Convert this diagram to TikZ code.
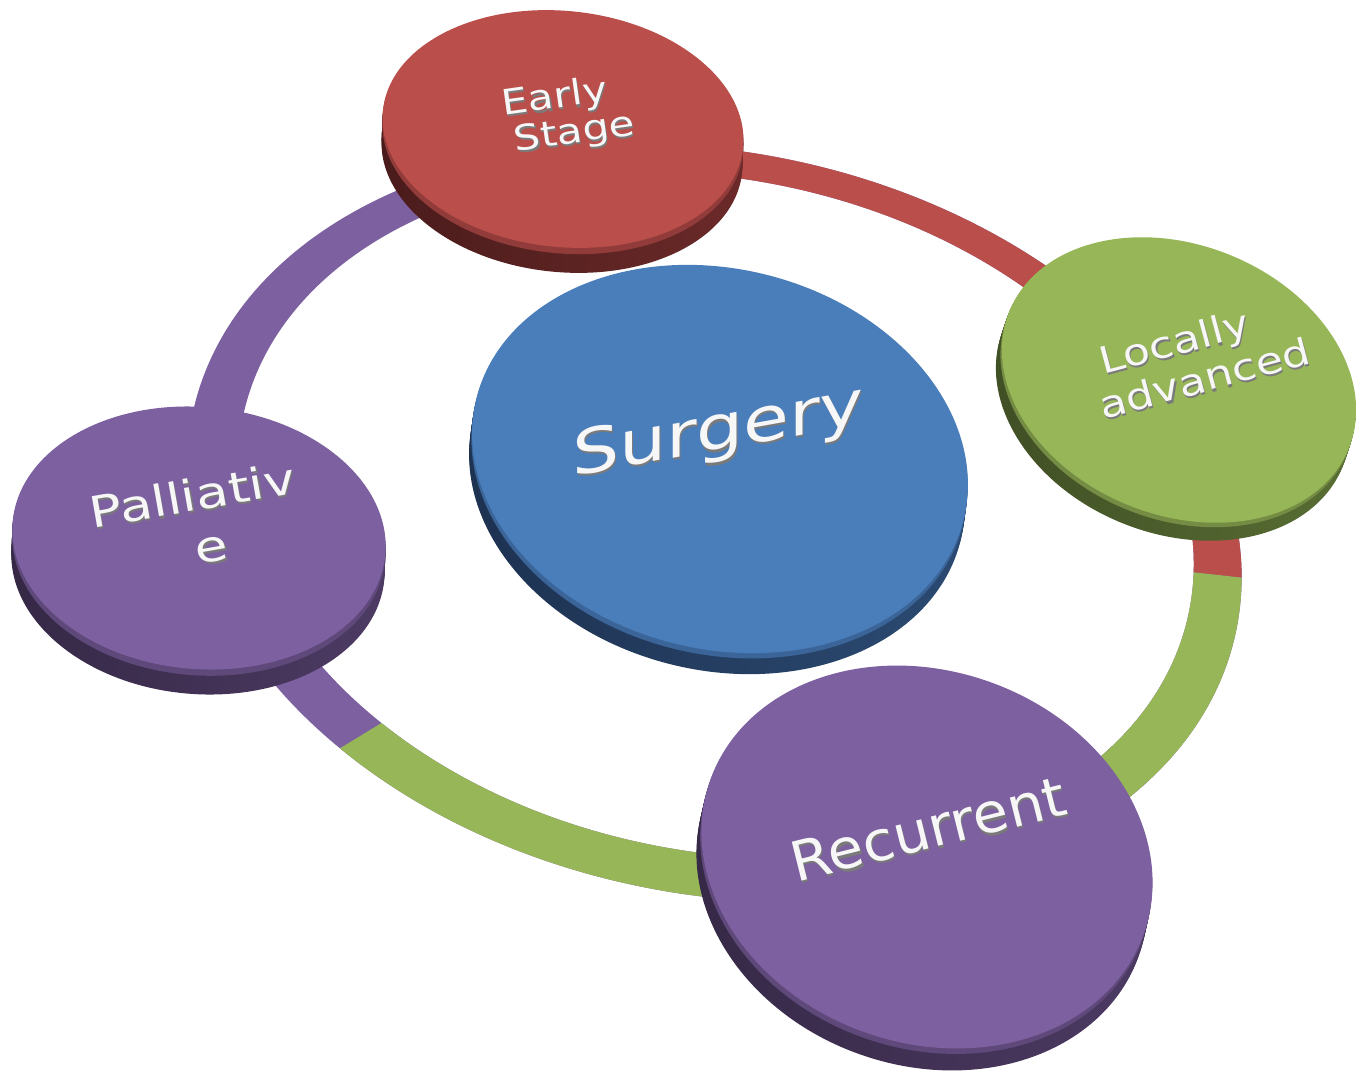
\documentclass[tikz,border=0pt]{standalone}
\usepackage{fontspec}
\newfontfamily\labelfont{DejaVu Sans}
\usetikzlibrary{calc}

% disc palettes: top face, bevel rim, side (dark/left and lighter/right)
\definecolor{sgtop}{HTML}{4A7EBB}
\definecolor{sgbevel}{HTML}{3B6599}
\definecolor{sgsideA}{HTML}{1D3150}
\definecolor{sgsideB}{HTML}{2C4B73}
\definecolor{rdtop}{HTML}{BA4E4B}
\definecolor{rdbevel}{HTML}{913C3A}
\definecolor{rdsideA}{HTML}{4A1B1B}
\definecolor{rdsideB}{HTML}{6B2A29}
\definecolor{gntop}{HTML}{97B657}
\definecolor{gnbevel}{HTML}{748C43}
\definecolor{gnsideA}{HTML}{3F4E24}
\definecolor{gnsideB}{HTML}{5A6F35}
\definecolor{pptop}{HTML}{7D60A0}
\definecolor{ppbevel}{HTML}{5F487A}
\definecolor{ppsideA}{HTML}{352845}
\definecolor{ppsideB}{HTML}{4D3B64}
\definecolor{textface}{HTML}{F7F7F7}
\definecolor{textshade}{HTML}{7A7A7A}

\tikzset{
  labeltext/.style={font=\labelfont, align=center, inner sep=0pt},
  ringband/.style={even odd rule, rotate around={-11.6:(715,-519)}},
}

% ring band: outer edge lowered a little, inner edge raised (perspective)
\newcommand\ringpath{(715,-523) ellipse [x radius=533, y radius=371]
  (715,-515) ellipse [x radius=483, y radius=336]}

% #1 name, #2 cx, #3 cy, #4 a, #5 b, #6 tilt, #7 palette, #8 side dx, #9 side dy
\newcommand\flatdisc[9]{%
  \foreach \k in {12,11,...,1}{%
    \pgfmathsetmacro\dcx{#2+\k*(#8)/12}%
    \pgfmathsetmacro\dcy{#3-\k*(#9)/12}%
    \begin{scope}[shift={(\dcx,\dcy)},rotate=#6]
      \shade[left color=#7sideA,right color=#7sideB] (0,0) ellipse [x radius=#4,y radius=#5];
    \end{scope}
  }%
  \pgfmathsetmacro\dcx{#2+0.25*(#8)}%
  \pgfmathsetmacro\dcy{#3-0.25*(#9)}%
  \begin{scope}[shift={(\dcx,\dcy)},rotate=#6]
    \fill[#7bevel] (0,0) ellipse [x radius=#4,y radius=#5];
  \end{scope}
  \begin{scope}[shift={(#2,#3)},rotate=#6]
    \fill[#7top] (0,0) ellipse [x radius=#4,y radius=#5];
  \end{scope}
  \coordinate (#1) at (#2,#3);
}

% white lettering with a grey extrusion underneath
% #1 name, #2 position, #3 node options, #4 text
\newcommand\embossedlabel[4]{%
  \node[labeltext,#3,text=textshade] at ($(#2)+(1.2,-2.2)$) {#4};
  \node[labeltext,#3,text=textface] (#1) at (#2) {#4};
}

\begin{document}
\begin{tikzpicture}[x=0.5pt,y=0.5pt]
\useasboundingbox (0,0) rectangle (1356,-1072);
\fill[white] (0,0) rectangle (1356,-1072);

\coordinate (ringc) at (715,-519);
\coordinate (cutE) at (563,-129);
\coordinate (cutR) at (1218,-575);
\coordinate (cutP) at (352,-741);

% the cycle ring, purple underneath, red and green sectors on top
\fill[pptop, ringband] \ringpath;
\begin{scope}
  \clip (ringc) -- ($(ringc)!4!(cutE)$) -- (3000,3000) -- ($(ringc)!4!(cutR)$) -- cycle;
  \fill[rdtop, ringband] \ringpath;
\end{scope}
\begin{scope}
  \clip (ringc) -- ($(ringc)!4!(cutR)$) -- (2727,-3000) -- (-737,-3000) -- ($(ringc)!4!(cutP)$) -- cycle;
  \fill[gntop, ringband] \ringpath;
\end{scope}

% discs, back to front
\flatdisc{early}{563}{-129}{181}{118}{-6}{rd}{-1}{25}
\embossedlabel{earlytext}{572,-115}{font=\labelfont\fontsize{17.5}{18.5}\selectfont, rotate=8, xscale=1.2}{Early\hspace*{0.7em}\\Stage}

\flatdisc{local}{1179}{-380}{183}{135}{-22}{gn}{-6}{18}
\embossedlabel{localtext}{1199,-357}{font=\labelfont\fontsize{18.5}{21.5}\selectfont, rotate=15, xscale=1.2}{Locally\hspace*{0.9em}\\advanced}

\flatdisc{pall}{199}{-538}{187}{131}{-5}{pp}{-1}{25}
\embossedlabel{palltext}{197,-521}{font=\labelfont\fontsize{21.5}{26.5}\selectfont, rotate=10, xscale=1.25}{Palliativ\\\hspace*{8pt}e}

\flatdisc{surg}{720}{-459}{251}{190}{-14}{sg}{-3}{21}
\embossedlabel{surgtext}{718,-450}{anchor=base, font=\labelfont\fontsize{31}{34}\selectfont, yslant=0.18, xscale=1.2}{Surgery}

\flatdisc{recur}{927}{-857}{230}{186}{-19.5}{pp}{-5}{22}
\embossedlabel{recurtext}{933,-848}{anchor=base, font=\labelfont\fontsize{27.5}{30}\selectfont, rotate=14, xscale=1.05}{Recurrent}
\end{tikzpicture}
\end{document}
